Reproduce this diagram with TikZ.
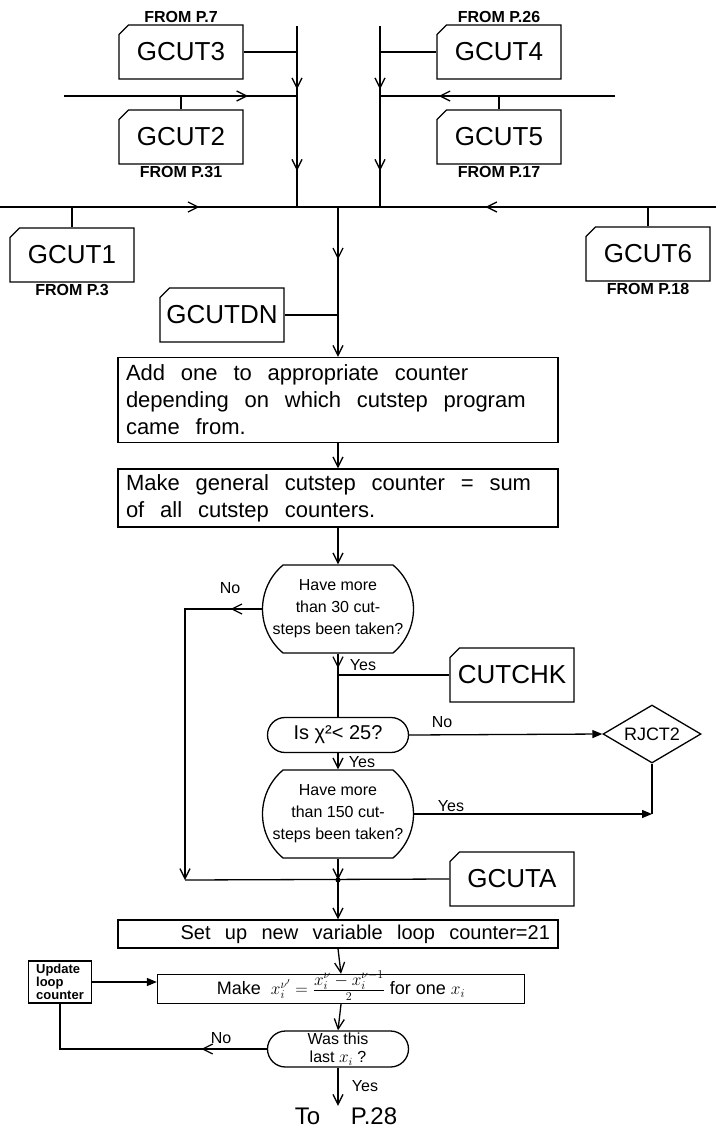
\documentclass[tikz,border=0pt]{standalone}
\usepackage{fontspec}
\setmainfont{Liberation Sans}
\usetikzlibrary{arrows.meta,shapes.misc,shapes.geometric,decorations.markings}
\newcommand{\wordgap}{\spaceskip=0.72em\relax}

\begin{document}
\begin{tikzpicture}[x=1pt, y=-1pt, line width=1.3pt,
        >={Straight Barb[length=10pt,width=10pt]},
        cardbox/.style={chamfered rectangle, chamfered rectangle corners=north west,
            chamfered rectangle xsep=6pt, draw, inner sep=0pt,
            minimum width=124pt, minimum height=54pt, font=\fontsize{26}{28}\selectfont},
        fromtext/.style={inner sep=1pt, font=\bfseries\fontsize{16}{16}\selectfont},
        procbox/.style={draw, inner xsep=8pt, inner ysep=0pt, text width=424pt, align=left,
            font=\fontsize{22}{27}\selectfont, execute at begin node=\wordgap},
        bigquery/.style={rounded rectangle, rounded rectangle arc length=100, draw,
            inner sep=0pt, minimum width=151pt, minimum height=88pt, align=center,
            font=\fontsize{16}{22}\selectfont},
        smallquery/.style={rounded rectangle, draw, inner sep=0pt, minimum width=141pt,
            minimum height=35pt, align=center, font=\fontsize{16}{18}\selectfont},
        rejectbox/.style={diamond, draw, aspect=1.7, inner sep=0pt, minimum width=98pt,
            minimum height=58pt, font=\fontsize{18}{18}\selectfont},
        answertext/.style={inner sep=1pt, font=\fontsize{16}{16}\selectfont},
        filledhead/.style={-{Triangle[length=10pt,width=8pt]}},
        midarrow/.style={postaction={decorate, decoration={markings,
            mark=at position #1 with {\arrow{>}}}}}]
    \useasboundingbox (0,0) rectangle (716,1133);

    % Entry points
    \node[cardbox] (g3) at (181,52) {GCUT3};
    \node[cardbox] (g2) at (181,137) {GCUT2};
    \node[cardbox] (g4) at (499,52) {GCUT4};
    \node[cardbox] (g5) at (499,137) {GCUT5};
    \node[cardbox] (g1) at (72,255) {GCUT1};
    \node[cardbox] (g6) at (648,254) {GCUT6};
    \node[cardbox] (gdn) at (222,315) {GCUTDN};
    \node[fromtext, above] (f3) at (g3.north) {FROM P.7};
    \node[fromtext, below] (f2) at (g2.south) {FROM P.31};
    \node[fromtext, above] (f4) at (g4.north) {FROM P.26};
    \node[fromtext, below] (f5) at (g5.south) {FROM P.17};
    \node[fromtext, below] (f1) at (g1.south) {FROM P.3};
    \node[fromtext, below] (f6) at (g6.south) {FROM P.18};

    % Counters
    \node[procbox, minimum height=85pt] (add) at (338,400)
        {Add one to appropriate counter\\depending on which cutstep program\\came from.};
    \node[procbox, minimum height=58pt] (gen) at (338,498)
        {Make general cutstep counter = sum\\of all cutstep counters.};

    % Tests
    \node[bigquery] (q30) at (338,609) {Have more\\than 30 cut-\\steps been taken?};
    \node[cardbox] (cutchk) at (512,675) {CUTCHK};
    \node[smallquery, font=\fontsize{20}{20}\selectfont] (chi) at (338,735) {Is χ²< 25?};
    \node[rejectbox] (rjct) at (652,734) {RJCT2};
    \node[bigquery] (q150) at (338,814) {Have more\\than 150 cut-\\steps been taken?};
    \node[cardbox] (gcuta) at (512,879) {GCUTA};

    % Loop over variables
    \node[procbox, minimum height=28pt, align=right, font=\fontsize{20}{22}\selectfont]
        (setup) at (338,934) {Set up new variable loop counter=21};
    \node[draw, minimum width=367pt, minimum height=29pt, inner sep=0pt, font=\fontsize{18}{20}\selectfont]
        (makex) at (341,989)
        {Make\ \ $x_i^{\nu'} =$ \smash{$\frac{\displaystyle x_i^{\nu}-x_i^{\nu-1}}{2}$} for one $x_i$};
    \node[draw, minimum width=63pt, minimum height=42pt, inner sep=1pt, align=left,
        font=\bfseries\fontsize{13}{13}\selectfont] (upd) at (60,982) {Update\\loop\\counter};
    \node[smallquery, minimum height=36pt] (was) at (338,1049) {Was this\\last $x_i$ ?};
    \node[font=\fontsize{24}{24}\selectfont, inner sep=1pt] (topage) at (346,1116) {To\quad\ P.28};

    % Answers
    \node[answertext] (no30) at (230,588) {No};
    \node[answertext] (yes30) at (363,665) {Yes};
    \node[answertext] (nochi) at (442,722) {No};
    \node[answertext] (yeschi) at (362,762) {Yes};
    \node[answertext] (yes150) at (451,806) {Yes};
    \node[answertext] (nowas) at (221,1038) {No};
    \node[answertext] (yeswas) at (365,1086) {Yes};

    % Feeder lines
    \coordinate (lefttop) at (297,26);
    \coordinate (righttop) at (380,26);
    \coordinate (feedL) at (64,96);
    \coordinate (feedR) at (615,96);
    \coordinate (busL) at (0,207);
    \coordinate (busR) at (716,207);
    \coordinate (merge) at (338,207);
    \draw[midarrow=0.35, midarrow=0.8] (lefttop) -- (lefttop |- merge);
    \draw[midarrow=0.35, midarrow=0.8] (righttop) -- (righttop |- merge);
    \draw (g3.east) -- (g3.east -| lefttop);
    \draw (g4.west) -- (g4.west -| righttop);
    \draw[midarrow=0.79] (feedL) -- (feedL -| lefttop);
    \draw[midarrow=0.75] (feedR) -- (feedR -| righttop);
    \draw (g2.north) -- (g2.north |- feedL);
    \draw (g5.north) -- (g5.north |- feedR);

    % Main bus
    \draw[midarrow=0.59] (busL) -- (merge);
    \draw[midarrow=0.61] (busR) -- (merge);
    \draw (g1.north) -- (g1.north |- busL);
    \draw (g6.north) -- (g6.north |- busR);

    % Down the page
    \draw[->, midarrow=0.35] (merge) -- (add.north);
    \draw (gdn.east) -- (gdn.east -| merge);
    \draw[->] (add.south) -- (gen.north);
    \draw[->] (gen.south) -- (q30.north);
    \coordinate (bypass) at (185,880);
    \coordinate (join) at (338,880);
    \draw[->, midarrow=0.09] (q30.west) -| (bypass);
    \draw[midarrow=0.23] (q30.south) -- (chi.north);
    \draw (cutchk.west) -- (cutchk.west -| q30.south);
    \draw[filledhead] (chi.east) -- (rjct.west);
    \draw[->] (chi.south) -- (q150.north);
    \draw (rjct.south) -- (rjct.south |- q150.east);
    \draw[filledhead] (q150.east) -- (q150.east -| rjct.south);
    \draw (bypass) -- (gcuta.west);
    \draw[->] (q150.south) -- (join);
    \fill (join) circle (2.5);
    \draw[->] (join) -- (setup.north);
    \draw[->] (setup.south) -- (makex.north);
    \draw[filledhead] (upd.east) -- (upd.east -| makex.west);
    \draw[->] (makex.south) -- (was.north);
    \draw[midarrow=0.26] (was.west) -| (upd.south);
    \draw[->] (was.south) -- (was.south |- topage.north);
\end{tikzpicture}
\end{document}
